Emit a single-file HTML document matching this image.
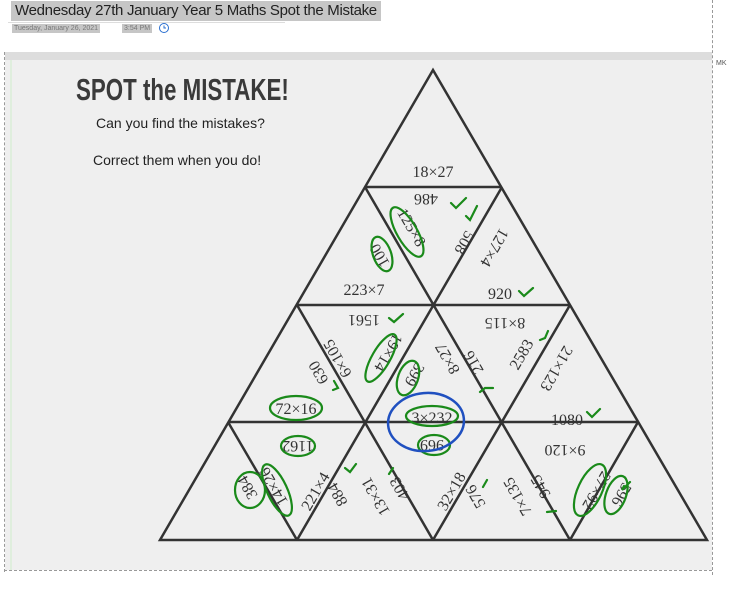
<!DOCTYPE html>
<html><head><meta charset="utf-8"><style>
body{margin:0;width:752px;height:597px;background:#fff;position:relative;overflow:hidden;font-family:"Liberation Sans",sans-serif}
.title{position:absolute;left:11px;top:1px;height:20px;padding:0 4px;background:#c6c6c6;font-size:15px;line-height:20px;color:#222;letter-spacing:-0.3px}
.meta{position:absolute;top:24px;font-size:7px;color:#777;background:#c6c6c6;height:9px;line-height:9px;padding:0 2px}
</style></head><body>
<div class="title">Wednesday 27th January Year 5 Maths Spot the Mistake</div>
<div style="position:absolute;left:8px;top:22px;width:277px;height:1px;background:#ddd"></div>
<div class="meta" style="left:12px">Tuesday, January 26, 2021</div>
<div class="meta" style="left:122px">3:54 PM</div>
<svg style="position:absolute;left:158px;top:22px" width="12" height="12"><circle cx="6" cy="6" r="4.5" fill="none" stroke="#2a6fd0" stroke-width="1"/><path d="M6 3.5V6h2" stroke="#2a6fd0" fill="none" stroke-width="1"/></svg>
<div style="position:absolute;left:712px;top:0;height:575px;border-left:1px dashed #999"></div>
<div style="position:absolute;left:4px;top:570px;width:708px;border-top:1px dashed #999"></div>
<div style="position:absolute;left:4px;top:52px;height:520px;border-left:1px dashed #999"></div>
<div style="position:absolute;left:5px;top:52px;width:707px;height:8px;background:#ddd"></div>
<div style="position:absolute;left:716px;top:60px;font-size:7px;color:#555">MK</div>
<div style="position:absolute;left:5px;top:60px;width:707px;height:510px;background:#efefef"></div>
<div style="position:absolute;left:10px;top:60px;width:2px;height:510px;background:#dfeedd"></div>
<svg style="position:absolute;left:0;top:0" width="752" height="597" font-family="Liberation Serif, serif" font-size="16" fill="#333">
<text transform="translate(76,100) scale(0.72,1)" font-family="Liberation Sans, sans-serif" font-weight="bold" font-size="31" fill="#3a3a3a">SPOT the MISTAKE!</text>
<text x="96" y="128" font-family="Liberation Sans, sans-serif" font-size="14" fill="#222">Can you find the mistakes?</text>
<text x="93" y="165" font-family="Liberation Sans, sans-serif" font-size="14" fill="#222">Correct them when you do!</text>
<g stroke="#333" stroke-width="2.5" fill="none">
<path d="M433 70L160 540H707Z"/>
<path d="M365 187H502M297 305H570M228 422H638"/>
<path d="M365 187L570 540M297 305L433 540M228 422L297 540M502 187L297 540M570 305L433 540M638 422L570 540"/>
</g>
<g text-anchor="middle">
<text x="433" y="177">18×27</text>
<text transform="translate(426,194) rotate(180)">486</text>
<text transform="translate(407,230) rotate(60)">125×8</text>
<text transform="translate(384,253) rotate(240)">100</text>
<text transform="translate(460,240) rotate(120)">508</text>
<text transform="translate(490,245) rotate(120)">127×4</text>
<text x="364" y="295">223×7</text>
<text x="500" y="299">920</text>
<text transform="translate(364,315) rotate(180)">1561</text>
<text transform="translate(505,318) rotate(180)">8×115</text>
<text transform="translate(342,356) rotate(240)">6×105</text>
<text transform="translate(384,350) rotate(120)">19×14</text>
<text transform="translate(323,370) rotate(240)">630</text>
<text transform="translate(410,372) rotate(120)">399</text>
<text transform="translate(452,356) rotate(240)">8×27</text>
<text transform="translate(478,360) rotate(240)">216</text>
<text transform="translate(526,357) rotate(-60)">2583</text>
<text transform="translate(552,366) rotate(120)">21×123</text>
<text x="296" y="414">72×16</text>
<text x="432" y="423">3×232</text>
<text x="567" y="425">1080</text>
<text transform="translate(298,441) rotate(180)">1162</text>
<text transform="translate(432,440) rotate(180)">969</text>
<text transform="translate(565,445) rotate(180)">9×120</text>
<text transform="translate(252,485) rotate(240)">384</text>
<text transform="translate(278,484) rotate(240)">14×26</text>
<text transform="translate(320,494) rotate(-60)">221×4</text>
<text transform="translate(342,492) rotate(240)">884</text>
<text transform="translate(380,494) rotate(240)">13×31</text>
<text transform="translate(404,486) rotate(240)">403</text>
<text transform="translate(456,494) rotate(-60)">32×18</text>
<text transform="translate(480,494) rotate(240)">576</text>
<text transform="translate(522,494) rotate(240)">7×135</text>
<text transform="translate(545,484) rotate(240)">945</text>
<text transform="translate(592,488) rotate(120)">27×92</text>
<text transform="translate(617,492) rotate(120)">596</text>
</g>
<g fill="none" stroke="#1a8a1a" stroke-width="2.2" stroke-linecap="round">
<ellipse cx="407" cy="232" rx="10" ry="28" transform="rotate(-30 407 232)"/>
<ellipse cx="382" cy="254" rx="9" ry="18" transform="rotate(-20 382 254)"/>
<ellipse cx="381" cy="358" rx="9" ry="27" transform="rotate(30 381 358)"/>
<ellipse cx="408" cy="378" rx="10" ry="18" transform="rotate(20 408 378)"/>
<ellipse cx="296" cy="408" rx="26" ry="12"/>
<ellipse cx="298" cy="446" rx="17" ry="10"/>
<ellipse cx="432" cy="416" rx="26" ry="10"/>
<ellipse cx="434" cy="445" rx="16" ry="10"/>
<ellipse cx="277" cy="490" rx="10" ry="28" transform="rotate(-25 277 490)"/>
<ellipse cx="250" cy="490" rx="15" ry="18"/>
<ellipse cx="590" cy="490" rx="12" ry="28" transform="rotate(25 590 490)"/>
<ellipse cx="616" cy="495" rx="10" ry="20" transform="rotate(20 616 495)"/>
<path d="M451 203l5 5l10-10M466 216l4 4l7-14M519 291l5 5l9-8M389 318l5 4l9-8M540 340l5 -2l3 -7M333 390l5-2l-4-7M480 392l5-4l8 0M587 412l5 5l8-8M345 468l5 4l6-8M393 468l-4 6M487 480l-4 7M547 512l9-1M624 486l-2 4l8-8"/>
</g>
<ellipse cx="426" cy="422" rx="38" ry="29" transform="rotate(-5 426 422)" fill="none" stroke="#2050c0" stroke-width="2.5"/>
</svg>
</body></html>
